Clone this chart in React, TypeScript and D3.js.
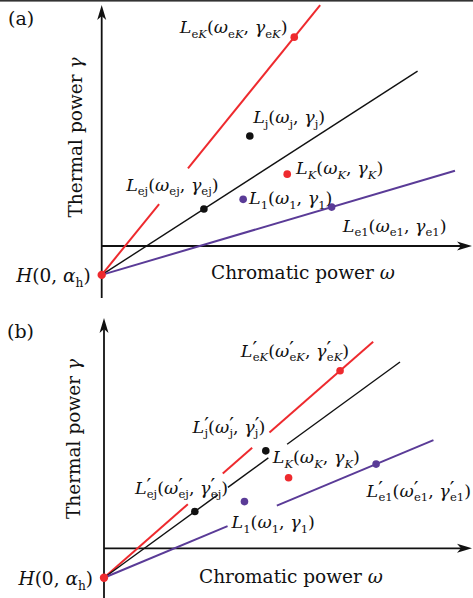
import React from "react";
import * as d3 from "d3";

const W = 473;
const H = 598;

const RED = "#ee2a2e";
const BLACK = "#111111";
const PURPLE = "#5a3b97";
const FONT = "'DejaVu Serif', serif";

// values in (ω, γ) units
const alphaH = [-0.78, -0.8];

// each coloured line starts at H and runs through one point: eK (red), ej (black), e1 (purple)
const lineKinds = ["K", "j", "1"];
const throughA = [[5.2, 5.64], [2.76, 1.0], [6.21, 1.05]];
const throughB = [[6.42, 4.83], [2.47, 1.0], [7.4, 2.29]];
// drawn ω ranges of each line (gaps where the labels sit)
const spansA = [[[0, 1.55], [2.33, 5.9]], [[0, 8.53]], [[0, 9.54]]];
const spansB = [
  [[0, 2.28], [3.23, 4.03], [4.5, 7.32]],
  [[0, 3.1], [3.37, 4.47], [4.98, 8.05]],
  [[0, 3.36], [4.7, 8.96]],
];

// free points
const dotsA = [
  { kind: "j", w: 4.0, g: 2.97 },
  { kind: "K", w: 5.01, g: 1.94 },
  { kind: "1", w: 3.82, g: 1.26 },
];
const dotsB = [
  { kind: "j", w: 4.4, g: 2.65 },
  { kind: "K", w: 5.02, g: 1.92 },
  { kind: "1", w: 3.82, g: 1.27 },
];

// labels: _{..} subscript, ' prime
const labelsA = [
  { t: "L_{eK}(ω_{eK}, γ_{eK})", w: 2.11, g: 5.75 },
  { t: "L_{j}(ω_{j}, γ_{j})", w: 4.09, g: 3.32 },
  { t: "L_{K}(ω_{K}, γ_{K})", w: 5.25, g: 1.94 },
  { t: "L_{ej}(ω_{ej}, γ_{ej})", w: 0.66, g: 1.49 },
  { t: "L_{1}(ω_{1}, γ_{1})", w: 3.98, g: 1.13 },
  { t: "L_{e1}(ω_{e1}, γ_{e1})", w: 6.51, g: 0.38 },
];
const labelsB = [
  { t: "L'_{eK}(ω'_{eK}, γ'_{eK})", w: 3.72, g: 5.21 },
  { t: "L'_{j}(ω'_{j}, γ'_{j})", w: 2.41, g: 3.14 },
  { t: "L_{K}(ω_{K}, γ_{K})", w: 4.59, g: 2.31 },
  { t: "L'_{ej}(ω'_{ej}, γ'_{ej})", w: 0.84, g: 1.48 },
  { t: "L'_{e1}(ω'_{e1}, γ'_{e1})", w: 7.14, g: 1.4 },
  { t: "L_{1}(ω_{1}, γ_{1})", w: 3.47, g: 0.54 },
];

const panelTags = ["(a)", "(b)"];
const xTitle = "Chromatic power ω";
const yTitle = "Thermal power γ";
const hLabel = "H(0, α_{h})";

const colorOf: Record<string, string> = { K: RED, j: BLACK, "1": PURPLE };
const widthOf: Record<string, number> = { K: 2, j: 1.4, "1": 2 };
const ITALIC = "LHKωγα";

// pixel frame of each panel
const frames = [
  { ox: 101.7, oy: 246, top: 5, bottom: 298, right: 472, unit: 37.03, tag: [8, 25], xt: [211, 279], yt: [82, 137.5] },
  { ox: 104, oy: 548.3, top: 318, bottom: 598, right: 472, unit: 36.77, tag: [7, 338], xt: [199, 583.3], yt: [80, 439] },
];

function MathText({ s, x, y, size, anchor = "start", italicAll = true }: any) {
  const sub = size * 0.66;
  const shift = size * 0.26;
  const nodes: any[] = [];
  let cur = 0;
  let dxNext = 0;
  let i = 0;
  let k = 0;
  const push = (c: string, fs: number, off: number) => {
    const it = ITALIC.includes(c) && (italicAll || !/[A-Z]/.test(c));
    nodes.push(
      <tspan key={k++} fontSize={fs} fontStyle={it ? "italic" : "normal"} dy={off - cur} dx={dxNext || undefined}>
        {c}
      </tspan>
    );
    cur = off;
    dxNext = 0;
  };
  while (i < s.length) {
    const ch = s[i];
    if (ch === "_" && s[i + 1] === "{") {
      const end = s.indexOf("}", i);
      for (const c of s.slice(i + 2, end)) push(c, sub, shift);
      i = end + 1;
      continue;
    }
    if (ch === "'") {
      // prime sits above the following subscript
      push("′", size * 1.2, -size * 0.05);
      dxNext = -size * 0.26;
      i++;
      continue;
    }
    push(ch, size, 0);
    i++;
  }
  return (
    <text x={x} y={y} textAnchor={anchor} fontFamily={FONT} fill="#111">
      {nodes}
    </text>
  );
}

function Panel({ idx }: { idx: number }) {
  const f = frames[idx];
  const alpha = alphaH[idx];
  const through = idx === 0 ? throughA : throughB;
  const spans = idx === 0 ? spansA : spansB;
  const dots = idx === 0 ? dotsA : dotsB;
  const labels = idx === 0 ? labelsA : labelsB;

  const x = d3.scaleLinear().domain([0, 10]).range([f.ox, f.ox + 10 * f.unit]);
  const y = d3.scaleLinear().domain([0, 1]).range([f.oy, f.oy - f.unit]);
  const line = d3
    .line<[number, number]>()
    .x((d) => x(d[0]))
    .y((d) => y(d[1]));

  const hx = x(0);
  const hy = y(alpha);

  const arrowUp = `M${f.ox},${f.top} L${f.ox - 4.5},${f.top + 15} L${f.ox},${f.top + 11} L${f.ox + 4.5},${f.top + 15} Z`;
  const arrowRight = `M${f.right},${f.oy} L${f.right - 15},${f.oy - 4.5} L${f.right - 11},${f.oy} L${f.right - 15},${f.oy + 4.5} Z`;

  return (
    <g>
      <text x={f.tag[0]} y={f.tag[1]} fontFamily={FONT} fontSize={19} fill="#111">
        {panelTags[idx]}
      </text>

      {/* axes */}
      <line x1={f.ox} x2={f.ox} y1={f.bottom} y2={f.top + 8} stroke="#111" strokeWidth={1.8} />
      <line x1={f.ox} x2={f.right - 8} y1={f.oy} y2={f.oy} stroke="#111" strokeWidth={1.8} />
      <path d={arrowUp} fill="#111" />
      <path d={arrowRight} fill="#111" />

      {/* lines from H */}
      {through.map((p, li) => {
        const m = (p[1] - alpha) / p[0];
        const kind = lineKinds[li];
        return spans[li].map((sp, si) => (
          <path
            key={`${li}-${si}`}
            d={line([
              [sp[0], alpha + m * sp[0]],
              [sp[1], alpha + m * sp[1]],
            ]) as string}
            fill="none"
            stroke={colorOf[kind]}
            strokeWidth={widthOf[kind]}
          />
        ));
      })}

      {/* points on the lines */}
      {through.map((p, li) => (
        <circle key={`t${li}`} cx={x(p[0])} cy={y(p[1])} r={3.8} fill={colorOf[lineKinds[li]]} />
      ))}
      {dots.map((d, di) => (
        <circle key={`d${di}`} cx={x(d.w)} cy={y(d.g)} r={3.8} fill={colorOf[d.kind]} />
      ))}
      <circle cx={hx} cy={hy} r={4.2} fill={RED} />

      {labels.map((l, i) => (
        <MathText key={i} s={l.t} x={x(l.w)} y={y(l.g)} size={17.5} />
      ))}
      <MathText s={hLabel} x={hx - 11} y={hy + 7} size={18.5} anchor="end" />
      <MathText s={xTitle} x={f.xt[0]} y={f.xt[1]} size={18.5} italicAll={false} />
      <g transform={`translate(${f.yt[0]},${f.yt[1]}) rotate(-90)`}>
        <MathText s={yTitle} x={0} y={0} size={18.5} anchor="middle" italicAll={false} />
      </g>
    </g>
  );
}

export default function App() {
  return (
    <svg width={W} height={H} style={{ position: "absolute", left: 0, top: 0, background: "#fff" }}>
      <rect x={0} y={0} width={W} height={H} fill="#fff" />
      <rect x={0} y={0} width={W} height={1.6} fill="#333" />
      <Panel idx={0} />
      <Panel idx={1} />
    </svg>
  );
}
